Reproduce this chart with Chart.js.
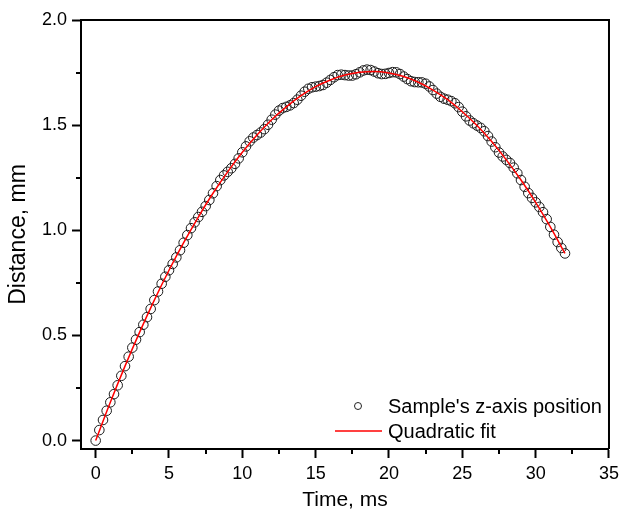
<!DOCTYPE html>
<html>
<head>
<meta charset="utf-8">
<script src="https://cdn.jsdelivr.net/npm/chart.js@4.4.1/dist/chart.umd.min.js"></script>
<style>
  body { margin: 0; background: #fff; }
  #wrap { width: 624px; height: 517px; position: relative; }
</style>
</head>
<body>
<div id="wrap"><canvas id="chart_1"></canvas></div>
<script>
// sample positions, 0.25 ms apart
const time_ms = [0,0.25,0.5,0.75,1,1.25,1.5,1.75,2,2.25,2.5,2.75,3,3.25,3.5,3.75,4,4.25,4.5,4.75,
  5,5.25,5.5,5.75,6,6.25,6.5,6.75,7,7.25,7.5,7.75,8,8.25,8.5,8.75,9,9.25,9.5,9.75,
  10,10.25,10.5,10.75,11,11.25,11.5,11.75,12,12.25,12.5,12.75,13,13.25,13.5,13.75,14,14.25,14.5,14.75,
  15,15.25,15.5,15.75,16,16.25,16.5,16.75,17,17.25,17.5,17.75,18,18.25,18.5,18.75,19,19.25,19.5,19.75,
  20,20.25,20.5,20.75,21,21.25,21.5,21.75,22,22.25,22.5,22.75,23,23.25,23.5,23.75,24,24.25,24.5,24.75,
  25,25.25,25.5,25.75,26,26.25,26.5,26.75,27,27.25,27.5,27.75,28,28.25,28.5,28.75,29,29.25,29.5,29.75,
  30,30.25,30.5,30.75,31,31.25,31.5,31.75,32]
const distance_mm = [0.000,0.050,0.098,0.142,0.182,0.221,0.263,0.308,
  0.354,0.399,0.442,0.480,0.516,0.551,0.587,0.626,
  0.668,0.709,0.746,0.779,0.810,0.840,0.871,0.905,
  0.941,0.977,1.010,1.038,1.063,1.088,1.115,1.144,
  1.176,1.210,1.239,1.261,1.278,1.295,1.316,1.342,
  1.371,1.399,1.423,1.441,1.453,1.465,1.481,1.502,
  1.526,1.550,1.569,1.581,1.587,1.594,1.605,1.621,
  1.640,1.659,1.673,1.680,1.683,1.686,1.691,1.702,
  1.715,1.728,1.738,1.740,1.738,1.736,1.736,1.742,
  1.751,1.760,1.764,1.762,1.755,1.747,1.743,1.744,
  1.748,1.752,1.751,1.743,1.731,1.719,1.709,1.705,
  1.704,1.703,1.697,1.684,1.667,1.650,1.635,1.626,
  1.621,1.614,1.604,1.586,1.564,1.542,1.522,1.509,
  1.498,1.487,1.471,1.448,1.422,1.395,1.370,1.351,
  1.335,1.320,1.298,1.271,1.239,1.207,1.177,1.154,
  1.133,1.111,1.086,1.053,1.016,0.979,0.944,0.916,
  0.890]

// quadratic fit curve, read every 1 ms
const fit_time = [0,1,2,3,4,5,6,7,8,9,10,11,12,13,14,15,16,17,18,19,20,21,22,23,24,25,26,27,28,29,30,31,32]
const fit_distance = [0.000,0.182,0.354,0.516,0.668,0.810,0.941,1.063,1.176,1.278,1.371,1.453,1.526,1.587,1.640,1.683,
  1.715,1.738,1.751,1.755,1.748,1.731,1.704,1.667,1.621,1.564,1.498,1.422,1.335,1.239,1.133,1.016,0.890]

const x_ticks = [0, 5, 10, 15, 20, 25, 30, 35]
const x_minor = [2.5, 7.5, 12.5, 17.5, 22.5, 27.5, 32.5]
const y_ticks = [0.0, 0.5, 1.0, 1.5, 2.0]
const y_minor = [0.25, 0.75, 1.25, 1.75]

const series_labels = ["Sample's z-axis position", "Quadratic fit"]

const font_name = "'Liberation Sans', Arial, sans-serif"

function to_points(xs, ys) {
  return xs.map(function (v, i) { return { x: v, y: ys[i] } })
}

// box on top/right, minor ticks and the legend
const frame_plugin = {
  id: 'frame_plugin',
  afterDraw(chart) {
    const ctx = chart.ctx
    const a = chart.chartArea
    const xs = chart.scales.x
    const ys = chart.scales.y
    ctx.save()
    ctx.strokeStyle = '#000'
    ctx.lineWidth = 2
    ctx.beginPath()
    ctx.moveTo(a.left, a.top)
    ctx.lineTo(a.right, a.top)
    ctx.lineTo(a.right, a.bottom)
    ctx.stroke()

    ctx.beginPath()
    x_minor.forEach(function (v) {
      const px = Math.round(xs.getPixelForValue(v))
      ctx.moveTo(px, a.bottom)
      ctx.lineTo(px, a.bottom + 5)
    })
    y_minor.forEach(function (v) {
      const py = Math.round(ys.getPixelForValue(v))
      ctx.moveTo(a.left, py)
      ctx.lineTo(a.left - 5, py)
    })
    ctx.stroke()

    // legend
    const lx = a.left + 307
    const ly = a.top + 386
    ctx.lineWidth = 1
    ctx.strokeStyle = '#222'
    ctx.beginPath()
    ctx.arc(a.left + 277, ly, 3.5, 0, Math.PI * 2)
    ctx.stroke()
    ctx.strokeStyle = '#ff0000'
    ctx.lineWidth = 1.5
    ctx.beginPath()
    ctx.moveTo(a.left + 254, ly + 25)
    ctx.lineTo(a.left + 301, ly + 25)
    ctx.stroke()
    ctx.fillStyle = '#000'
    ctx.font = '20px ' + font_name
    ctx.textBaseline = 'middle'
    ctx.fillText(chart.data.datasets[1].label, lx, ly + 1)
    ctx.fillText(chart.data.datasets[0].label, lx, ly + 26)
    ctx.restore()
  }
}

function draw_chart() {
  const ctx = document.getElementById('chart_1').getContext('2d')
  new Chart(ctx, {
    type: 'scatter',
    data: {
      datasets: [
        {
          label: series_labels[1],
          data: to_points(fit_time, fit_distance),
          showLine: true,
          borderColor: '#ff0000',
          borderWidth: 1.5,
          pointRadius: 0,
          cubicInterpolationMode: 'monotone',
          order: 1
        },
        {
          label: series_labels[0],
          data: to_points(time_ms, distance_mm),
          pointStyle: 'circle',
          pointRadius: 4.8,
          pointBorderWidth: 1,
          borderColor: '#1a1a1a',
          backgroundColor: 'rgba(0,0,0,0)',
          order: 2
        }
      ]
    },
    options: {
      responsive: true,
      maintainAspectRatio: false,
      animation: false,
      devicePixelRatio: 1,
      layout: { padding: { top: 20, right: 12, left: 0, bottom: 0 } },
      plugins: { legend: { display: false }, tooltip: { enabled: false } },
      scales: {
        x: {
          type: 'linear',
          min: -1,
          max: 35,
          afterBuildTicks: function (scale) { scale.ticks = x_ticks.map(function (v) { return { value: v } }) },
          afterFit: function (scale) { scale.height = 68 },
          grid: { drawOnChartArea: false, drawTicks: true, tickLength: 9, tickWidth: 2, tickColor: '#000' },
          border: { display: true, color: '#000', width: 2 },
          ticks: { color: '#000', padding: 5, font: { family: font_name, size: 18 }, maxRotation: 0 },
          title: { display: true, text: 'Time, ms', color: '#000', font: { family: font_name, size: 21, lineHeight: 1 }, padding: { top: 0, bottom: 6 } }
        },
        y: {
          type: 'linear',
          min: -0.04,
          max: 2.0,
          afterBuildTicks: function (scale) { scale.ticks = y_ticks.map(function (v) { return { value: v } }) },
          afterFit: function (scale) { scale.width = 81 },
          grid: { drawOnChartArea: false, drawTicks: true, tickLength: 9, tickWidth: 2, tickColor: '#000' },
          border: { display: true, color: '#000', width: 2 },
          ticks: {
            color: '#000', padding: 5, font: { family: font_name, size: 18 },
            callback: function (v) { return Number(v).toFixed(1) }
          },
          title: { display: true, text: 'Distance, mm', color: '#000', font: { family: font_name, size: 23, lineHeight: 1 }, padding: { top: 7, bottom: 0 } }
        }
      }
    },
    plugins: [frame_plugin]
  })
}

draw_chart()
</script>
</body>
</html>
